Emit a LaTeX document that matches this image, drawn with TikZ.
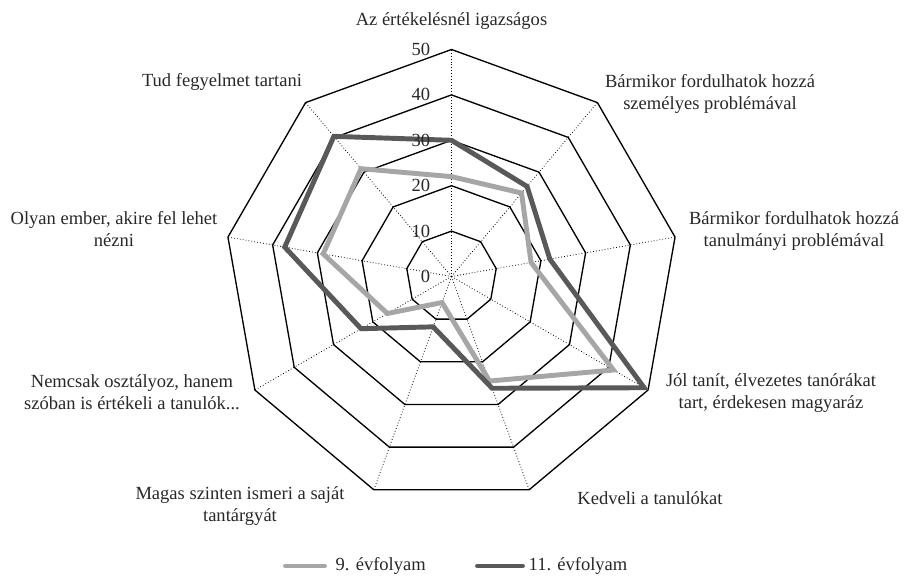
\documentclass[tikz,border=0pt]{standalone}
\usepackage{fontspec}
\setmainfont{Liberation Serif}
\usetikzlibrary{calc}

\definecolor{grade9}{RGB}{166,166,166}
\definecolor{grade11}{RGB}{89,89,89}
\definecolor{txt}{RGB}{40,40,40}
\newcommand{\radstep}{4.54}

\begin{document}
\begin{tikzpicture}[x=0.75pt, y=0.75pt,
    every node/.style={font=\fontsize{13.9}{16.9}\selectfont, text=txt},
    ring/.style={line width=1pt, black},
    spoke/.style={line width=0.6pt, dash pattern=on 0.6pt off 1.6pt},
    series/.style={line width=3.7pt, line join=miter},
    catlabel/.style={align=center},
    ticklabel/.style={anchor=east, inner sep=0pt}]

    \useasboundingbox (-451.5,-298.5) rectangle (455.5,276.5);

    % Spokes
    \foreach \i in {0,...,8}
        \draw[spoke] (0,0) -- (90-40*\i:50*\radstep);

    % Rings
    \foreach \v in {10,20,...,50}
        \draw[ring] (90:\v*\radstep) \foreach \i in {1,...,8} { -- (90-40*\i:\v*\radstep) } -- cycle;

    % 9. evfolyam
    \draw[series, grade9] (90:22*\radstep) -- (50:24*\radstep) -- (10:17.8*\radstep)
        -- (-30:41.2*\radstep) -- (-70:24.5*\radstep) -- (-110:6.1*\radstep)
        -- (-150:16.3*\radstep) -- (170:28.7*\radstep) -- (130:31*\radstep) -- cycle;

    % 11. evfolyam
    \draw[series, grade11] (90:30*\radstep) -- (50:25.9*\radstep) -- (10:22*\radstep)
        -- (-30:49*\radstep) -- (-70:26.2*\radstep) -- (-110:11.8*\radstep)
        -- (-150:23*\radstep) -- (170:37.3*\radstep) -- (130:40.3*\radstep) -- cycle;

    % Scale
    \foreach \v in {0,10,...,50}
        \node[ticklabel] (tick\v) at (-21,\v*\radstep) {\v};

    % Categories
    \node[catlabel] (cat0) at (0,255) {Az értékelésnél igazságos};
    \node[catlabel] (cat1) at (258.5,182.5) {Bármikor fordulhatok hozzá\\személyes problémával};
    \node[catlabel] (cat2) at (342.5,45.5) {Bármikor fordulhatok hozzá\\tanulmányi problémával};
    \node[catlabel] (cat3) at (319.5,-116.5) {Jól tanít, élvezetes tanórákat\\tart, érdekesen magyaráz};
    \node[catlabel] (cat4) at (198.5,-221.5) {Kedveli a tanulókat};
    \node[catlabel] (cat5) at (-211.5,-229.5) {Magas szinten ismeri a saját\\tantárgyát};
    \node[catlabel] (cat6) at (-319.5,-115.5) {Nemcsak osztályoz, hanem\\szóban is értékeli a tanulók...};
    \node[catlabel] (cat7) at (-337.5,47.5) {Olyan ember, akire fel lehet\\nézni};
    \node[catlabel] (cat8) at (-229.5,194.5) {Tud fegyelmet tartani};

    % Legend
    \node[anchor=west] (leg9) at (-120.5,-289.5) {9. évfolyam};
    \node[anchor=west] (leg11) at (72.5,-289.5) {11. évfolyam};
    \draw[series, grade9, line cap=round] ($(leg9.west)+(-45.5,0)$) -- ($(leg9.west)+(-6.5,0)$);
    \draw[series, grade11, line cap=round] ($(leg11.west)+(-46.5,0)$) -- ($(leg11.west)+(-1.5,0)$);

\end{tikzpicture}
\end{document}
